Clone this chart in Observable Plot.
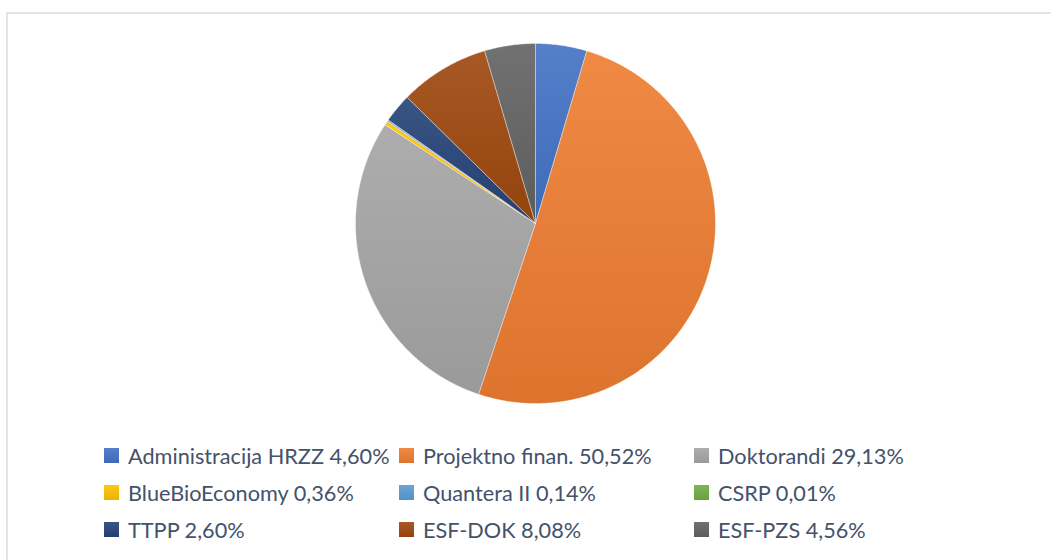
<!DOCTYPE html>
<html>
<head>
<meta charset="utf-8">
<script src="https://cdn.jsdelivr.net/npm/d3@7"></script>
<script src="https://cdn.jsdelivr.net/npm/@observablehq/plot@0.6"></script>
<style>
  html, body { margin: 0; padding: 0; background: #fff; width: 1051px; height: 560px; overflow: hidden; }
  #frame { position: absolute; left: 6px; top: 12px; width: 1100px; height: 600px; border: 2px solid #e1e4ea; box-sizing: border-box; }
  #chart { position: absolute; left: 0; top: 0; }
  #legend { position: absolute; left: 104px; top: 437px; display: grid; grid-template-columns: 295px 295px 295px; grid-auto-rows: 37px; font-family: Lato, sans-serif; font-size: 21.7px; color: #44526a; }
  .item { display: flex; align-items: center; white-space: nowrap; }
  .sw { width: 15px; height: 15px; margin-right: 9px; flex: none; }
</style>
</head>
<body>
<div id="frame"></div>
<div id="chart"></div>
<div id="legend"></div>
<script>
const categories = ["Administracija HRZZ", "Projektno finan.", "Doktorandi", "BlueBioEconomy", "Quantera II", "CSRP", "TTPP", "ESF-DOK", "ESF-PZS"];
const shares = [4.60, 50.52, 29.13, 0.36, 0.14, 0.01, 2.60, 8.08, 4.56];
const shareLabels = ["4,60%", "50,52%", "29,13%", "0,36%", "0,14%", "0,01%", "2,60%", "8,08%", "4,56%"];
const colors = ["#4472C4", "#ED7D31", "#A5A5A5", "#FFC000", "#5B9BD5", "#70AD47", "#264478", "#9E480E", "#636363"];

const topColor = c => d3.interpolateRgb(c, "#ffffff")(0.09);
const botColor = c => d3.color(c).darker(0.2).formatHex();

const arcs = d3.pie().sort(null).value(d => d)(shares);
const pts = [];
arcs.forEach((a, i) => {
  const grad = `url(#g${i})`;
  pts.push({slice: i, x: 0, y: 0, grad});
  const n = Math.max(2, Math.ceil((a.endAngle - a.startAngle) / 0.01));
  for (let k = 0; k <= n; k++) {
    const t = a.startAngle + (a.endAngle - a.startAngle) * k / n;
    pts.push({slice: i, x: Math.sin(t), y: Math.cos(t), grad});
  }
  pts.push({slice: i, x: 0, y: 0, grad});
});

const W = 1051, H = 430;
const plot = Plot.plot({
  width: W, height: H,
  marginLeft: 355, marginRight: W - 715, marginTop: 43, marginBottom: H - 403,
  x: {domain: [-1, 1], axis: null},
  y: {domain: [-1, 1], axis: null},
  color: {type: "identity"},
  style: {background: "transparent"},
  marks: [
    Plot.line(pts, {x: "x", y: "y", z: "slice", fill: "grad", stroke: "white", strokeWidth: 0.6, strokeOpacity: 0.6, curve: "linear"})
  ]
});

const ns = "http://www.w3.org/2000/svg";
const defs = document.createElementNS(ns, "defs");
colors.forEach((c, i) => {
  const lg = document.createElementNS(ns, "linearGradient");
  lg.setAttribute("id", `g${i}`);
  lg.setAttribute("x1", "0"); lg.setAttribute("y1", "0");
  lg.setAttribute("x2", "0"); lg.setAttribute("y2", "1");
  [[0, topColor(c)], [1, botColor(c)]].forEach(([o, col]) => {
    const s = document.createElementNS(ns, "stop");
    s.setAttribute("offset", o);
    s.setAttribute("stop-color", col);
    lg.appendChild(s);
  });
  defs.appendChild(lg);
});
plot.insertBefore(defs, plot.firstChild);
document.getElementById("chart").appendChild(plot);

const legend = document.getElementById("legend");
categories.forEach((name, i) => {
  const it = document.createElement("div");
  it.className = "item";
  const sw = document.createElement("span");
  sw.className = "sw";
  sw.style.background = `linear-gradient(${topColor(colors[i])}, ${botColor(colors[i])})`;
  const tx = document.createElement("span");
  tx.textContent = `${name} ${shareLabels[i]}`;
  it.appendChild(sw); it.appendChild(tx);
  legend.appendChild(it);
});
</script>
</body>
</html>
